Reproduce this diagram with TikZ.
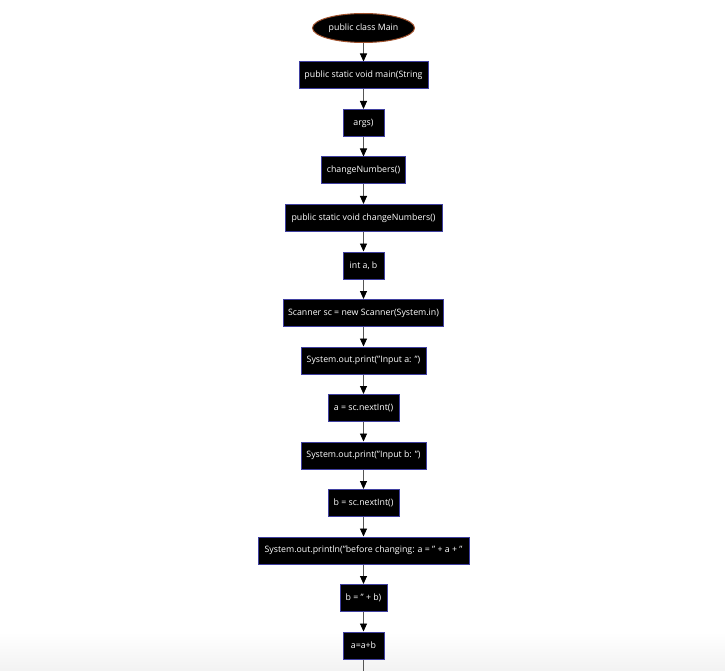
\documentclass[tikz,border=0pt]{standalone}
\usepackage{fontspec}
\setmainfont{Open Sans}
\usetikzlibrary{shapes.geometric,arrows.meta}
\definecolor{boxborder}{HTML}{3F3FA0}
\definecolor{ellborder}{HTML}{A0522D}
\definecolor{lnk}{HTML}{555555}
\tikzset{
  stepbox/.style={draw=boxborder, fill=black, text=white, line width=1pt,
    minimum height=27pt, inner xsep=3pt, font=\fontsize{8.8}{10}\selectfont},
  startell/.style={ellipse, draw=ellborder, fill=black, text=white, line width=1pt,
    minimum width=102pt, minimum height=29pt, inner sep=0pt, font=\fontsize{8.8}{10}\selectfont},
  flow/.style={draw=lnk, line width=0.9pt, -{Triangle[length=8pt,width=7pt,fill=black,color=black]}},
}
\begin{document}
\begin{tikzpicture}[x=1pt,y=-1pt]
\useasboundingbox (0,0) rectangle (725,671);
\fill[top color=white, bottom color=black!5, draw=none] (0,632) rectangle (725,671);
\node[startell] (n1) at (363.5,28) {public class Main};
\node[stepbox, minimum width=129pt] (n2) at (363.5,75.5) {public static void main(String};
\node[stepbox, minimum width=41pt] (n3) at (363.5,123) {args)};
\node[stepbox, minimum width=84pt] (n4) at (363.5,170.5) {changeNumbers()};
\node[stepbox, minimum width=157pt] (n5) at (363.5,218) {public static void changeNumbers()};
\node[stepbox, minimum width=41pt] (n6) at (363.5,265.5) {int a, b};
\node[stepbox, minimum width=160pt] (n7) at (363.5,313) {Scanner sc = new Scanner(System.in)};
\node[stepbox, minimum width=125pt] (n8) at (363.5,360.5) {System.out.print("Input a: ")};
\node[stepbox, minimum width=71pt] (n9) at (363.5,408) {a = sc.nextInt()};
\node[stepbox, minimum width=125pt] (n10) at (363.5,455.5) {System.out.print("Input b: ")};
\node[stepbox, minimum width=71pt] (n11) at (363.5,503) {b = sc.nextInt()};
\node[stepbox, minimum width=211pt] (n12) at (363.5,550.5) {System.out.println("before changing: a = " + a + "};
\node[stepbox, minimum width=47pt] (n13) at (363.5,598) {b = " + b)};
\node[stepbox, minimum width=41pt] (n14) at (363.5,645.5) {a=a+b};
\coordinate (end) at (363.5,675);
\foreach \a/\b in {n1/n2,n2/n3,n3/n4,n4/n5,n5/n6,n6/n7,n7/n8,n8/n9,n9/n10,n10/n11,n11/n12,n12/n13,n13/n14}
  \draw[flow] (\a) -- (\b);
\draw[draw=lnk, line width=0.9pt] (n14) -- (end);
\end{tikzpicture}
\end{document}
